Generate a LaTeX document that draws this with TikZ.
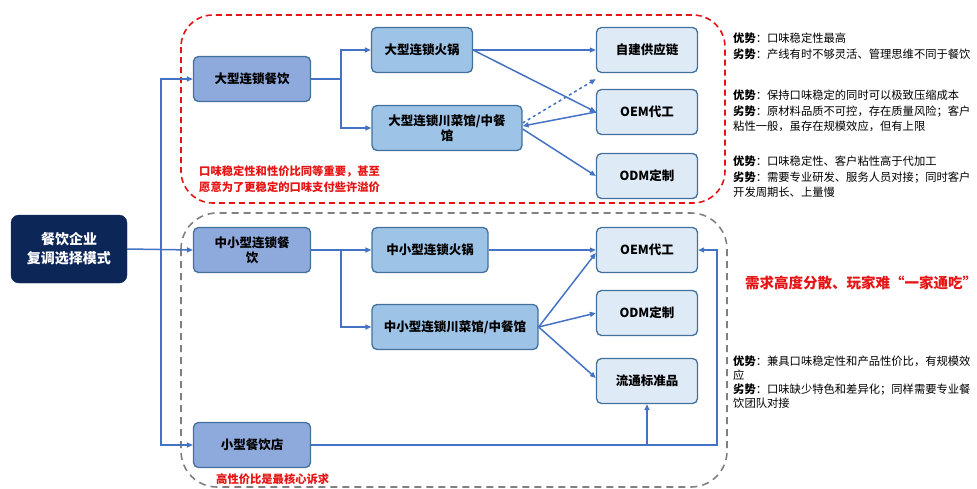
\documentclass[tikz,border=0pt]{standalone}
\usepackage{fontspec}
\setmainfont{Noto Sans CJK SC}
\usetikzlibrary{arrows.meta,calc}
\definecolor{arrc}{RGB}{68,114,196}
\definecolor{lvone}{RGB}{142,169,219}
\definecolor{lvtwo}{RGB}{157,195,230}
\definecolor{lvthree}{RGB}{222,235,247}
\definecolor{bordc}{RGB}{65,113,156}
\definecolor{navy}{RGB}{12,38,88}
\definecolor{redc}{RGB}{230,20,20}
\begin{document}
\begin{tikzpicture}[x=1pt,y=-1pt,
  box/.style={draw=bordc,line width=1.3pt,rounded corners=5pt,inner sep=0pt,align=center,font=\fontsize{12.5}{15}\selectfont\bfseries},
  boxone/.style={box,fill=lvone,minimum width=117pt,minimum height=45pt},
  boxtwo/.style={box,fill=lvtwo,minimum height=45pt},
  boxthree/.style={box,fill=lvthree,minimum width=101pt,minimum height=45pt},
  arr/.style={draw=arrc,line width=1.5pt,-{Triangle[length=6pt,width=5pt]}},
  ln/.style={draw=arrc,line width=1.5pt},
  note/.style={anchor=north west,align=left,inner sep=0pt,font=\fontsize{11.3}{15.2}\selectfont},
  redtxt/.style={text=redc,font=\fontsize{11.3}{16}\selectfont\bfseries,align=left,inner sep=0pt}]
\useasboundingbox (0,0) rectangle (977,488);
% dashed group frames
\draw[redc,line width=1.6pt,dash pattern=on 6pt off 4pt,rounded corners=32pt] (181,15) rectangle (725,203);
\draw[gray,line width=1.6pt,dash pattern=on 7pt off 5pt,rounded corners=36pt] (181,213) rectangle (727,487);
% main node
\node[draw=navy,fill=navy,rounded corners=8pt,minimum width=116pt,minimum height=68pt,inner sep=0pt,align=center,text=white,font=\fontsize{14}{19}\selectfont\bfseries] (main) at (69,249) {餐饮企业\\复调选择模式};
% level 1
\node[boxone] (big) at (252,79) {大型连锁餐饮};
\node[boxone] (mid) at (252,250) {中小型连锁餐\\饮};
\node[boxone] (small) at (252,445) {小型餐饮店};
% level 2
\node[boxtwo,minimum width=101pt] (hot1) at (422,50) {大型连锁火锅};
\node[boxtwo,minimum width=150pt] (sich1) at (447,128) {大型连锁川菜馆/中餐\\馆};
\node[boxtwo,minimum width=116pt] (hot2) at (430,250) {中小型连锁火锅};
\node[boxtwo,minimum width=166pt] (sich2) at (455,327) {中小型连锁川菜馆/中餐馆};
% level 3
\node[boxthree] (self) at (647,50) {自建供应链};
\node[boxthree] (oem1) at (647,112) {OEM代工};
\node[boxthree] (odm1) at (647,176) {ODM定制};
\node[boxthree] (oem2) at (647,250) {OEM代工};
\node[boxthree] (odm2) at (647,313) {ODM定制};
\node[boxthree] (std) at (647,381) {流通标准品};
% spine
\coordinate (sp) at (161,249);
\path[ln] (sp |- big.west) -- (sp |- small.west);
\path[arr] (main.east) -- (mid.west);
\path[arr] (sp) |- (big.west);
\path[arr] (sp) |- (small.west);
% top branch
\coordinate (b1) at (341,79);
\path[ln] (big.east) -- (b1);
\path[arr] (b1) |- (hot1.west);
\path[arr] (b1) |- (sich1.west);
\path[arr] (hot1.east) -- (self.west);
\path[arr] (hot1.east) -- (oem1.west);
\path[arr,dashed] ([yshift=5pt]sich1.east) -- ([yshift=-6pt]self.south west);
\path[arr] (oem1.west) -- ([yshift=2pt]sich1.east);
\path[arr] ([yshift=-1pt]sich1.east) -- (odm1.west);
% middle branch
\coordinate (b2) at (341,250);
\path[arr] (mid.east) -- (hot2.west);
\path[arr] (b2) |- (sich2.west);
\path[arr] (hot2.east) -- (oem2.west);
\path[arr] (sich2.east) -- ([yshift=-3pt]oem2.west);
\path[arr] (sich2.east) -- (odm2.west);
\path[arr] (sich2.east) -- ([yshift=3pt]std.west);
% small branch
\coordinate (rt) at (717,445);
\coordinate (jn) at (647,445);
\path[arr] (small.east) -- (rt) |- (oem2.east);
\path[arr] (jn) -- (std.south);
% red texts
\node[redtxt,anchor=north west] (r1) at (199,165) {口味稳定性和性价比同等重要，甚至\\愿意为了更稳定的口味支付些许溢价};
\node[redtxt,anchor=west] (r2) at (216,479) {高性价比是最核心诉求};
\node[redtxt,anchor=west,font=\fontsize{14.5}{17}\selectfont\bfseries] (r3) at (745,283) {需求高度分散、玩家难“一家通吃”};
% notes
\node[note] (n1) at (733,33) {\textbf{优势}：口味稳定性最高\\\textbf{劣势}：产线有时不够灵活、管理思维不同于餐饮};
\node[note] (n2) at (733,90) {\textbf{优势}：保持口味稳定的同时可以极致压缩成本\\\textbf{劣势}：原材料品质不可控，存在质量风险；客户\\粘性一般，虽存在规模效应，但有上限};
\node[note] (n3) at (733,156) {\textbf{优势}：口味稳定性、客户粘性高于代加工\\\textbf{劣势}：需要专业研发、服务人员对接；同时客户\\开发周期长、上量慢};
\node[note,font=\fontsize{11.3}{14}\selectfont] (n4) at (733,356) {\textbf{优势}：兼具口味稳定性和产品性价比，有规模效\\应\\\textbf{劣势}：口味缺少特色和差异化；同样需要专业餐\\饮团队对接};
\end{tikzpicture}
\end{document}
